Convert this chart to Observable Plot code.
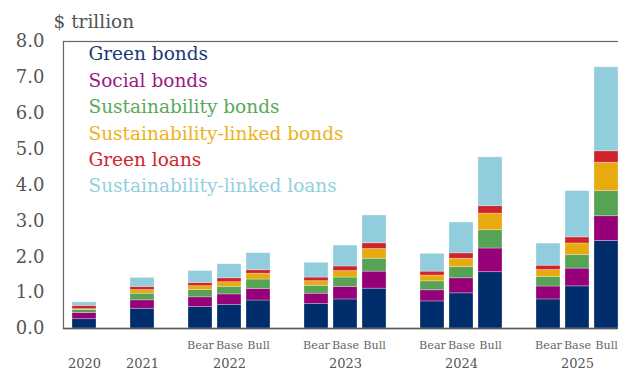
<!DOCTYPE html>
<html>
<head>
<meta charset="utf-8">
<script src="https://cdn.jsdelivr.net/npm/d3@7"></script>
<script src="https://cdn.jsdelivr.net/npm/@observablehq/plot@0.6"></script>
<style>
  html, body { margin: 0; padding: 0; overflow: hidden; background: white; }
  #chart { width: 618px; height: 370px; overflow: hidden; position: relative; }
  #chart svg { max-width: none !important; width: 627px !important; height: 370px !important; display: block; }
</style>
</head>
<body>
<div id="chart"></div>
<script>
// ---- data ----
const series = ["Green bonds", "Social bonds", "Sustainability bonds",
  "Sustainability-linked bonds", "Green loans", "Sustainability-linked loans"];
const colors = ["#002d6b", "#960078", "#56a356", "#e8ab0f", "#d0242c", "#91cddd"];
const legendColors = ["#1a3a73", "#9a1a84", "#5aa85a", "#edb21a", "#d0262e", "#93cfdf"];

const bars = ["2020", "2021",
  "2022 Bear", "2022 Base", "2022 Bull",
  "2023 Bear", "2023 Base", "2023 Bull",
  "2024 Bear", "2024 Base", "2024 Bull",
  "2025 Bear", "2025 Base", "2025 Bull"];

const greenBonds          = [0.26, 0.55, 0.60, 0.66, 0.78, 0.68, 0.81, 1.11, 0.755, 0.98, 1.57, 0.81, 1.175, 2.44];
const socialBonds         = [0.17, 0.235, 0.27, 0.29, 0.325, 0.29, 0.35, 0.475, 0.31, 0.42, 0.66, 0.36, 0.495, 0.69];
const sustainabilityBonds = [0.09, 0.185, 0.20, 0.21, 0.26, 0.22, 0.26, 0.36, 0.25, 0.31, 0.51, 0.27, 0.38, 0.70];
const slBonds             = [0.02, 0.10, 0.11, 0.13, 0.16, 0.13, 0.18, 0.27, 0.16, 0.235, 0.46, 0.19, 0.32, 0.79];
const greenLoans          = [0.09, 0.09, 0.09, 0.11, 0.10, 0.10, 0.13, 0.16, 0.11, 0.15, 0.21, 0.12, 0.17, 0.32];
const slLoans             = [0.10, 0.25, 0.33, 0.39, 0.475, 0.41, 0.58, 0.775, 0.495, 0.86, 1.36, 0.615, 1.29, 2.34];

const yTicks = [0, 1, 2, 3, 4, 5, 6, 7, 8];
const yearLabels = [["2020", "2020"], ["2021", "2021"], ["2022 Base", "2022"],
  ["2023 Base", "2023"], ["2024 Base", "2024"], ["2025 Base", "2025"]];
const scenarioBars = bars.slice(2);

// ---- build table ----
const valueArrays = [greenBonds, socialBonds, sustainabilityBonds, slBonds, greenLoans, slLoans];
const table = [];
bars.forEach((b, j) => {
  series.forEach((s, i) => table.push({bar: b, series: s, value: valueArrays[i][j]}));
});

// x domain with empty gap slots between groups
const domain = ["2020", "gap1", "2021", "gap2",
  "2022 Bear", "2022 Base", "2022 Bull", "gap3",
  "2023 Bear", "2023 Base", "2023 Bull", "gap4",
  "2024 Bear", "2024 Base", "2024 Bull", "gap5",
  "2025 Bear", "2025 Base", "2025 Bull"];

const font = "DejaVu Serif";
const legendMarks = series.map((s, i) =>
  Plot.text([s], {
    frameAnchor: "top-left", dx: 25, dy: 13 + i * 26.4,
    textAnchor: "start", lineAnchor: "middle",
    fill: legendColors[i], fontSize: 18.5, fontFamily: font
  })
);

const chart = Plot.plot({
  width: 627,
  height: 370,
  marginLeft: 63,
  marginRight: 0,
  marginTop: 41,
  marginBottom: 42,
  style: {fontFamily: font, background: "white", overflow: "visible", maxWidth: "none"},
  x: {type: "band", domain, paddingInner: 0.16, paddingOuter: 0.08, axis: null},
  y: {domain: [0, 8], axis: null},
  color: {domain: series, range: colors},
  marks: [
    Plot.barY(table, {x: "bar", y: "value", fill: "series", stroke: "white", strokeOpacity: 0.35, strokeWidth: 0.8}),
    Plot.axisY({ticks: yTicks, tickFormat: d3.format(".1f"), tickSize: 0, tickPadding: 19,
      fontSize: 18, color: "#555", label: null, fontFamily: font}),
    Plot.frame({stroke: "#666", strokeWidth: 1.2}),
    Plot.ruleY([0], {stroke: "#555", strokeWidth: 1.5}),
    Plot.text(["$ trillion"], {frameAnchor: "top-left", dx: -10, dy: -19, textAnchor: "start",
      lineAnchor: "middle", fontSize: 18.5, fill: "#555", fontFamily: font}),
    Plot.text(scenarioBars, {x: d => d, text: d => d.split(" ")[1], frameAnchor: "bottom",
      dy: 17, lineAnchor: "middle", fontSize: 11.2, fill: "#666", fontFamily: font}),
    Plot.text(yearLabels, {x: d => d[0], text: d => d[1], frameAnchor: "bottom",
      dy: 35, lineAnchor: "middle", fontSize: 13, fill: "#555", fontFamily: font}),
    ...legendMarks
  ]
});
document.getElementById("chart").appendChild(chart);
</script>
</body>
</html>
